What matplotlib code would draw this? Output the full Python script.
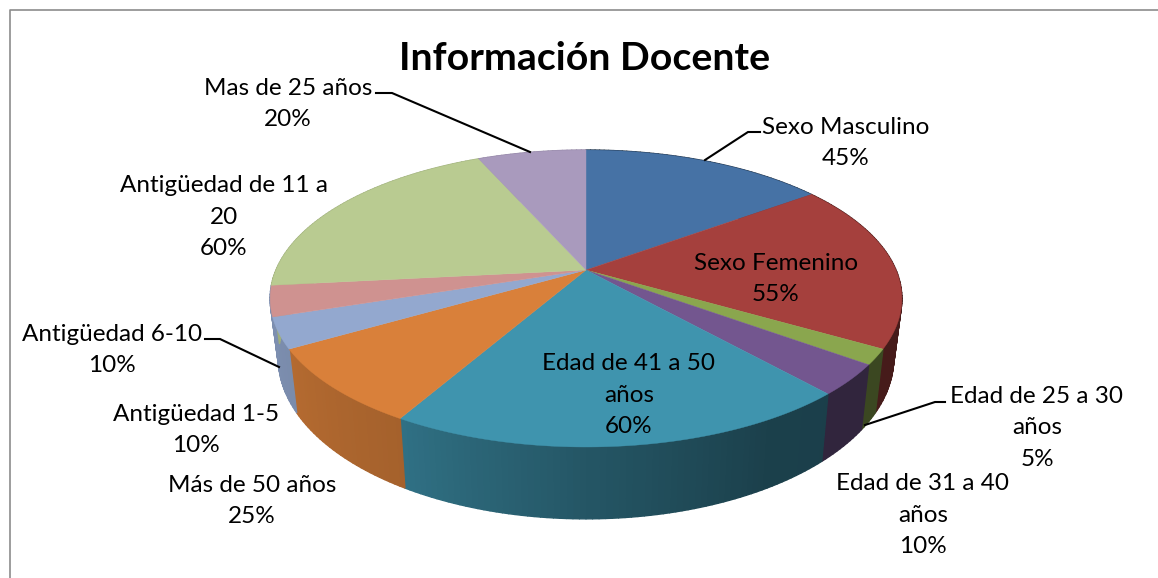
"""Información Docente - 3D pie (Excel style), perspective projection by hand."""
import matplotlib

matplotlib.use("Agg")
import matplotlib.pyplot as plt
import numpy as np
from matplotlib.collections import PolyCollection
from matplotlib.colors import to_rgb
from matplotlib.patches import Polygon

TITLE = "Información Docente"
CATEGORIES = ["Sexo Masculino", "Sexo Femenino", "Edad de 25 a 30\naños", "Edad de 31 a 40\naños",
              "Edad de 41 a 50\naños", "Más de 50 años", "Antigüedad 1-5", "Antigüedad 6-10",
              "Antigüedad de 11 a\n20", "Mas de 25 años"]
VALUES = [45, 55, 5, 10, 60, 25, 10, 10, 60, 20]
COLORS = ["#4672A5", "#A5403D", "#8AA64E", "#73568F", "#3F94AE",
          "#D9803A", "#93A8CF", "#CF9290", "#B9CB91", "#A99ABD"]
# pink slice's rim is hidden behind the blue one in the original
SIDE_COLORS = COLORS[:7] + ["#93A8CF"] + COLORS[8:]

# label centre in pixels, one per category
LABEL_POS = [(846, 143), (776, 279), (1037, 428), (923, 515), (629, 395),
             (252, 501), (196, 430), (112, 350), (224, 217), (288, 104)]
# leader lines: (slice index) -> polyline in pixels
LEADERS = {0: [(760, 132), (748, 132), (705, 160)],
           2: [(945, 402), (935, 402), (865, 425)],
           7: [(205, 339), (220, 339), (279, 367)],
           9: [(376, 93), (392, 93), (530, 152)]}

# projection of the pie disc
CX, TOP_CY, BOT_CY = 586, 270, 327
A_TOP, A_BOT = 310, 302
B_TOP, B_BOT = 143, 155
K = 0.192
# side shading against clockwise angle from 12 o'clock
SHADE_ANG = [0, 90, 150, 180, 210, 240, 270, 360]
SHADE_VAL = [0.40, 0.42, 0.43, 0.58, 0.76, 0.83, 0.86, 0.86]


def project(theta, a, b, cy):
    x = np.sin(theta)
    y = -np.cos(theta)
    w = 1 - K * y
    return np.column_stack([CX + a * x / w, cy + b * y / w])


fig = plt.figure(figsize=(11.58, 5.78), dpi=100)
ax = fig.add_axes([0, 0, 1, 1])
ax.set_xlim(0, 1158)
ax.set_ylim(578, 0)
ax.axis("off")
plt.rcParams["font.family"] = ["Lato", "DejaVu Sans"]

# chart frame (only top and left are in the crop)
ax.plot([9.5, 9.5, 1158], [578, 9.5, 9.5], color="#8c8c8c", lw=1.2)

edges = np.cumsum([0] + VALUES) / sum(VALUES) * 2 * np.pi

# sides first, then the top face over them
for i, col in enumerate(SIDE_COLORS):
    th = np.linspace(edges[i], edges[i + 1], max(int(np.degrees(edges[i + 1] - edges[i])), 2) + 1)
    top = project(th, A_TOP, B_TOP, TOP_CY)
    bot = project(th, A_BOT, B_BOT, BOT_CY)
    quads, cols = [], []
    for j in range(len(th) - 1):
        quads.append([top[j], top[j + 1], bot[j + 1], bot[j]])
        f = np.interp(np.degrees(0.5 * (th[j] + th[j + 1])), SHADE_ANG, SHADE_VAL)
        cols.append(tuple(np.array(to_rgb(col)) * f))
    ax.add_collection(PolyCollection(quads, facecolors=cols, edgecolors=cols, linewidths=1.0, zorder=2))

for i, col in enumerate(COLORS):
    th = np.linspace(edges[i], edges[i + 1], 120)
    rim = project(th, A_TOP, B_TOP, TOP_CY)
    pts = np.vstack([[CX, TOP_CY], rim])
    ax.add_patch(Polygon(pts, closed=True, facecolor=col, edgecolor=col, lw=0.3, zorder=3))

for idx, line in LEADERS.items():
    xs, ys = zip(*line)
    ax.plot(xs, ys, color="black", lw=1.5, zorder=4, solid_joinstyle="miter")

for cat, val, (x, y) in zip(CATEGORIES, VALUES, LABEL_POS):
    ax.text(x, y, f"{cat}\n{val}%", ha="center", va="center", fontsize=17.5, color="black",
            linespacing=1.6, zorder=5)

ax.text(585, 59, TITLE, ha="center", va="center", fontsize=28.3, fontweight="bold", color="black", zorder=5)

fig.savefig("out.png", dpi=100)
